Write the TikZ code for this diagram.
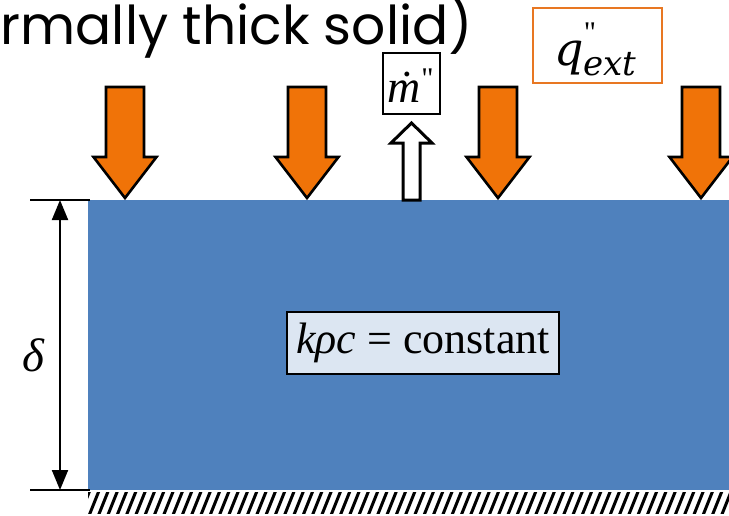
\documentclass[tikz,border=0pt]{standalone}
\usepackage{fontspec}
\newfontfamily\gothic{Poppins}
\newfontfamily\tms{Liberation Serif}
\newfontfamily\djs{DejaVu Serif}
\usetikzlibrary{arrows.meta}
\definecolor{slabblue}{HTML}{4F81BD}
\definecolor{fluxorange}{HTML}{F07308}
\definecolor{qborder}{HTML}{E87722}
\definecolor{lightbox}{HTML}{DCE6F2}
\tikzset{
  fluxarrow/.pic={\draw[line width=2.6pt, fill=fluxorange, line join=miter]
     (-19,0) -- (19,0) -- (19,70) -- (31.5,70) -- (0,111) -- (-31.5,70) -- (-19,70) -- cycle;},
  dimtick/.style={line width=1.5pt},
  dimarrow/.style={line width=2pt, {Triangle[width=16pt,length=20pt]}-{Triangle[width=16pt,length=20pt]}},
  hatchline/.style={line width=3pt},
  labelbox/.style={draw, line width=1.2pt, inner sep=0pt},
  dblprime/.style={inner sep=0pt, font=\tms\fontsize{30}{32}\selectfont},
}
\begin{document}
\begin{tikzpicture}[x=1pt,y=-1pt]
\useasboundingbox (0,0) rectangle (729,515);
% title
\node[anchor=base west, inner sep=0pt] (title) at (0.5,44)
  {\gothic\fontsize{53.5}{58}\selectfont rmally thick solid)};
% slab
\fill[slabblue] (88,200) rectangle (729,490);
% hatch
\begin{scope}
\clip (88,492) rectangle (729,513);
\foreach \i in {0,...,75} \draw[hatchline] ({80+\i*9.3},515) -- ({90+\i*9.3},490);
\end{scope}
% dimension
\coordinate (dtop) at (60,200);
\coordinate (dbot) at (60,490);
\coordinate (ttl) at (30,200); \coordinate (ttr) at (90,200);
\coordinate (tbl) at (30,490); \coordinate (tbr) at (90,490);
\draw[dimtick] (ttl) -- (ttr);
\draw[dimtick] (tbl) -- (tbr);
\draw[dimarrow] (dtop) -- (dbot);
\node (delta) at (33,355) {\tms\itshape\fontsize{47}{50}\selectfont δ};
% orange flux arrows
\foreach \cx in {125,307,498,701} \pic at (\cx,87) {fluxarrow};
% hollow up arrow
\draw[line width=3pt, fill=white, line join=miter]
  (403,200) -- (403,143) -- (391,143) -- (411.5,123) -- (432,143) -- (420,143) -- (420,200) -- cycle;
% mdot box
\node[labelbox, minimum width=57pt, minimum height=61pt] (mbox) at (411.5,83.5) {};
\node[inner sep=0pt, anchor=base west] (mdot) at (387,102)
  {\tms\itshape\fontsize{46}{48}\selectfont \.{m}\kern1pt\raisebox{14pt}{\upshape\fontsize{30}{32}\selectfont "}};
% q box
\node[draw=qborder, line width=1.8pt, minimum width=129pt, minimum height=75pt] (qbox) at (597.5,45.5) {};
\node[inner sep=0pt, anchor=base west] (qsym) at (554,65) {\djs\itshape\fontsize{46}{48}\selectfont q};
\node[inner sep=0pt, anchor=base west] (qsub) at (583,75) {\djs\itshape\fontsize{34}{36}\selectfont ext};
\node[dblprime] (qpp) at (590,33) {"};
% property box
\node[draw, line width=1.2pt, fill=lightbox, minimum width=272pt, minimum height=62pt, inner sep=0pt] (prop) at (423,343)
  {\tms\fontsize{44}{46}\selectfont \textit{kρc} = constant};
\end{tikzpicture}
\end{document}
